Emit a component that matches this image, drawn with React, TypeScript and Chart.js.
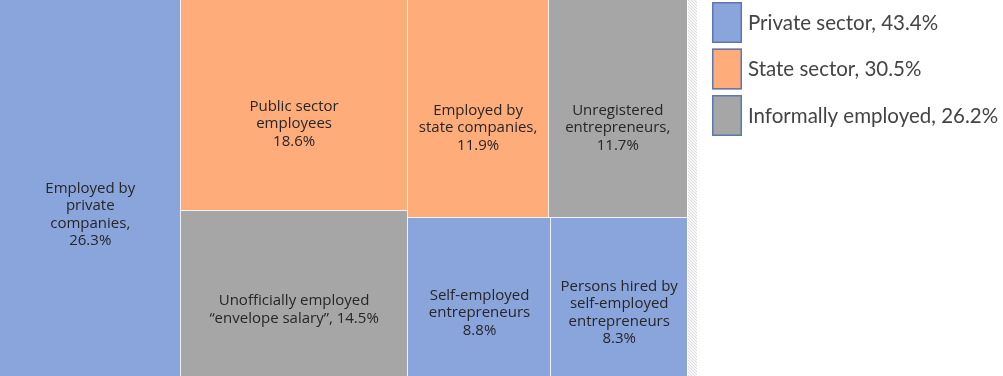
import React, { useEffect, useRef } from 'react';
import { Chart, registerables } from 'chart.js';

Chart.register(...registerables);

// ---------- data ----------
const categories = [
  'Employed by private companies',
  'Public sector employees',
  'Unofficially employed “envelope salary”',
  'Employed by state companies',
  'Unregistered entrepreneurs',
  'Self-employed entrepreneurs',
  'Persons hired by self-employed entrepreneurs',
];
const values = [26.3, 18.6, 14.5, 11.9, 11.7, 8.8, 8.3];
const sectorOf = [0, 1, 2, 1, 2, 0, 0];
const sectorNames = ['Private sector', 'State sector', 'Informally employed'];
const labelTemplates = [
  'Employed by\nprivate\ncompanies,\n{v}%',
  'Public sector\nemployees\n{v}%',
  'Unofficially employed\n“envelope salary”, {v}%',
  'Employed by\nstate companies,\n{v}%',
  'Unregistered\nentrepreneurs,\n{v}%',
  'Self-employed\nentrepreneurs\n{v}%',
  'Persons hired by\nself-employed\nentrepreneurs\n{v}%',
];

// ---------- styles ----------
const sectorColors = ['#89A5DC', '#FFAC7B', '#A6A6A6'];
const LABEL_FONT = '"Open Sans", "Noto Sans", sans-serif';
const LEGEND_FONT = 'Lato, "Open Sans", sans-serif';

type R = { x0: number; y0: number; x1: number; y1: number };

// squarified layout (d3-style with aspect ratio parameter)
function squarify(vals: number[], W: number, H: number, ratio: number): R[] {
  const order = vals.map((_, i) => i).sort((a, b) => vals[b] - vals[a]);
  const rects: R[] = new Array(vals.length);
  let x0 = 0, y0 = 0;
  const x1 = W, y1 = H;
  let remaining = vals.reduce((a, b) => a + b, 0);
  let i0 = 0;
  const n = order.length;
  while (i0 < n) {
    const dx = x1 - x0, dy = y1 - y0;
    let i1 = i0;
    let sum = vals[order[i1++]];
    let minV = sum, maxV = sum;
    const alpha = Math.max(dy / dx, dx / dy) / (remaining * ratio);
    let beta = sum * sum * alpha;
    let minRatio = Math.max(maxV / beta, beta / minV);
    for (; i1 < n; i1++) {
      const v = vals[order[i1]];
      sum += v;
      if (v < minV) minV = v;
      if (v > maxV) maxV = v;
      beta = sum * sum * alpha;
      const nr = Math.max(maxV / beta, beta / minV);
      if (nr > minRatio) { sum -= v; break; }
      minRatio = nr;
    }
    const row = order.slice(i0, i1);
    if (dx < dy) {
      const h = (dy * sum) / remaining;
      let x = x0;
      row.forEach((k) => {
        const w = (dx * vals[k]) / sum;
        rects[k] = { x0: x, y0, x1: x + w, y1: y0 + h };
        x += w;
      });
      y0 += h;
    } else {
      const w = (dx * sum) / remaining;
      let y = y0;
      row.forEach((k) => {
        const h = (dy * vals[k]) / sum;
        rects[k] = { x0, y0: y, x1: x0 + w, y1: y + h };
        y += h;
      });
      x0 += w;
    }
    remaining -= sum;
    i0 = i1;
  }
  return rects;
}

const treemapPlugin = {
  id: 'treemapCells',
  afterDatasetsDraw(chart: any) {
    const { ctx, chartArea, scales } = chart;
    const xs = scales.x, ys = scales.y;
    const W = chartArea.right - chartArea.left;
    const H = chartArea.bottom - chartArea.top;
    const aspect = W / H;
    const rects = squarify(values, aspect, 1, 0.9);
    ctx.save();
    rects.forEach((r, i) => {
      const px0 = xs.getPixelForValue(r.x0 / aspect);
      const px1 = xs.getPixelForValue(r.x1 / aspect);
      const py0 = ys.getPixelForValue(r.y0);
      const py1 = ys.getPixelForValue(r.y1);
      const L = Math.round(px0), T = Math.round(py0);
      const Rr = Math.round(px1), B = Math.round(py1);
      ctx.fillStyle = sectorColors[sectorOf[i]];
      ctx.fillRect(L, T, Rr - L, B - T);
      ctx.fillStyle = 'rgba(255,255,255,0.85)';
      if (Rr < chartArea.right - 1) ctx.fillRect(Rr - 1, T, 1, B - T);
      if (B < chartArea.bottom - 1) ctx.fillRect(L, B - 1, Rr - L, 1);
    });
    // labels
    ctx.fillStyle = '#262626';
    ctx.font = `15px ${LABEL_FONT}`;
    ctx.textAlign = 'center';
    ctx.textBaseline = 'middle';
    const lh = 17.5;
    rects.forEach((r, i) => {
      const px0 = xs.getPixelForValue(r.x0 / aspect);
      const px1 = xs.getPixelForValue(r.x1 / aspect);
      const py0 = ys.getPixelForValue(r.y0);
      const py1 = ys.getPixelForValue(r.y1);
      const lines = labelTemplates[i].replace('{v}', values[i].toFixed(1)).split('\n');
      const h = py1 - py0;
      const cy = (py0 + py1) / 2 + 0.05 * h + 8;
      const cx = (px0 + px1) / 2;
      const top = cy - ((lines.length - 1) * lh) / 2;
      lines.forEach((ln, j) => ctx.fillText(ln, cx, top + j * lh));
    });
    // hatched strip at the right of the plot
    const sx = chartArea.right + 1, sw = 9;
    ctx.fillStyle = '#F7F7F7';
    ctx.fillRect(sx, chartArea.top, sw, H);
    ctx.beginPath();
    ctx.rect(sx, chartArea.top, sw, H);
    ctx.clip();
    ctx.strokeStyle = '#DCDCDC';
    ctx.lineWidth = 1;
    ctx.beginPath();
    for (let y = chartArea.top - sw; y < chartArea.bottom + sw; y += 3) {
      ctx.moveTo(sx, y);
      ctx.lineTo(sx + sw, y + sw);
    }
    ctx.stroke();
    ctx.restore();

    // legend
    ctx.save();
    const sums = sectorNames.map((_, s) =>
      values.reduce((a, v, i) => (sectorOf[i] === s ? a + v : a), 0)
    );
    const lx = chartArea.right + 25;
    ctx.font = `20.5px ${LEGEND_FONT}`;
    ctx.textAlign = 'left';
    ctx.textBaseline = 'middle';
    sectorNames.forEach((name, s) => {
      const by = chartArea.top + 2 + s * 46.5;
      ctx.fillStyle = sectorColors[s];
      ctx.fillRect(lx, by, 30, 41);
      ctx.strokeStyle = '#5C77B2';
      ctx.lineWidth = 1.5;
      ctx.strokeRect(lx + 0.75, by + 0.75, 28.5, 39.5);
      ctx.fillStyle = '#444444';
      ctx.fillText(`${name}, ${sums[s].toFixed(1)}%`, lx + 36, by + 21);
    });
    ctx.restore();
  },
};

export default function App() {
  const ref = useRef<HTMLCanvasElement | null>(null);
  useEffect(() => {
    document.body.style.margin = '0';
    if (!ref.current) return;
    const chart = new Chart(ref.current, {
      type: 'scatter',
      data: {
        labels: categories,
        datasets: [{ data: [], pointRadius: 0 }],
      },
      options: {
        animation: false,
        responsive: true,
        maintainAspectRatio: false,
        layout: { padding: { left: 0, top: 0, bottom: 0, right: 316 } },
        scales: {
          x: { type: 'linear', min: 0, max: 1, display: false },
          y: { type: 'linear', min: 0, max: 1, reverse: true, display: false },
        },
        plugins: { legend: { display: false }, tooltip: { enabled: false } },
      },
      plugins: [treemapPlugin],
    });
    return () => chart.destroy();
  }, []);
  return (
    <div style={{ width: 1003, height: 376, position: 'relative' }}>
      <canvas ref={ref} />
    </div>
  );
}
